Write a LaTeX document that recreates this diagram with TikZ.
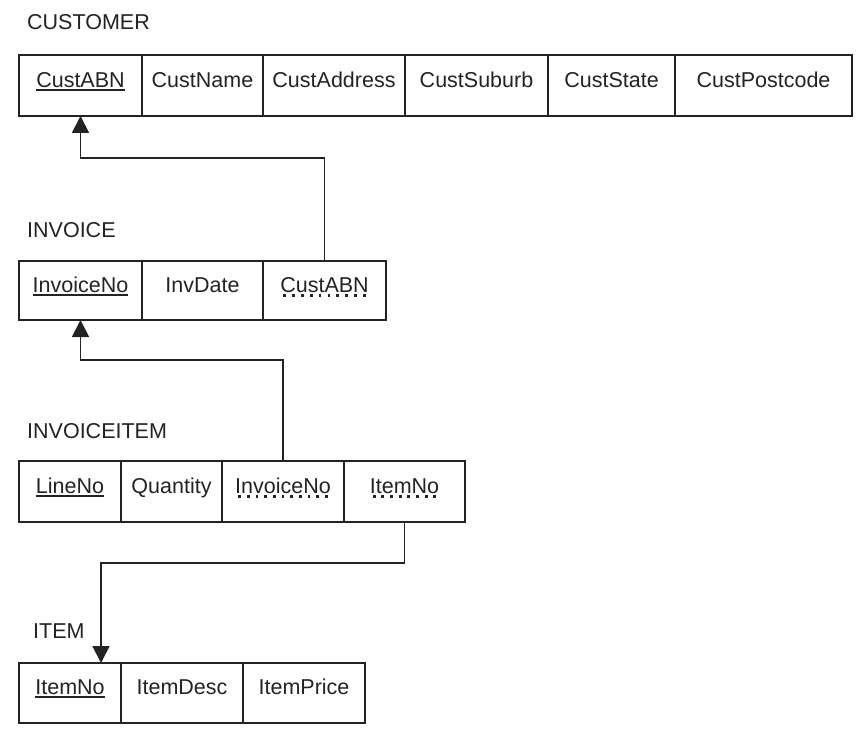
\documentclass[tikz,border=0pt]{standalone}
\usepackage{fontspec}
\setmainfont{Liberation Sans}
\usetikzlibrary{arrows.meta}
\definecolor{ink}{RGB}{35,35,35}
\newsavebox\ulbox
\newcommand\pkul[1]{\sbox\ulbox{#1}\rlap{\usebox\ulbox}\textcolor{ink}{\rule[-3.5pt]{\wd\ulbox}{1.8pt}}}
\newcommand\fkul[1]{\sbox\ulbox{#1}\rlap{\usebox\ulbox}\hbox to \wd\ulbox{\color{ink}\xleaders\hbox to 8.5pt{\hss\rule[-4.5pt]{2.8pt}{2.8pt}\hss}\hfill}}
\begin{document}
\begin{tikzpicture}[x=1pt,y=-1pt,
  cell/.style={draw=ink, line width=1.7pt, rectangle, inner sep=0pt, outer sep=0pt,
    text=ink, font=\fontsize{21.5}{24}\selectfont, text height=15.5pt, text depth=12pt},
  title/.style={anchor=base west, inner sep=0pt, text=ink, font=\fontsize{21.5}{24}\selectfont},
  fk/.style={draw=ink, line width=1.8pt, -{Triangle[length=17pt,width=17pt]}}]
\fill[white] (0,0) rectangle (862,730);
\useasboundingbox (0,0) rectangle (862,730);

% titles
\node[title] (tc) at (27,30) {CUSTOMER};
\node[title] (ti) at (27,237) {INVOICE};
\node[title] (tii) at (27,438) {INVOICEITEM};
\node[title] (tt) at (33,638) {ITEM};

% CUSTOMER
\node[cell, minimum width=123pt, minimum height=61pt] (c1) at (80.5,85.5) {\pkul{CustABN}};
\node[cell, minimum width=121pt, minimum height=61pt] (c2) at (202.5,85.5) {CustName};
\node[cell, minimum width=142pt, minimum height=61pt] (c3) at (334,85.5) {CustAddress};
\node[cell, minimum width=143pt, minimum height=61pt] (c4) at (476.5,85.5) {CustSuburb};
\node[cell, minimum width=127pt, minimum height=61pt] (c5) at (611.5,85.5) {CustState};
\node[cell, minimum width=177pt, minimum height=61pt] (c6) at (763.5,85.5) {CustPostcode};

% INVOICE
\node[cell, minimum width=123pt, minimum height=59pt] (i1) at (80.5,290.5) {\pkul{InvoiceNo}};
\node[cell, minimum width=121pt, minimum height=59pt] (i2) at (202.5,290.5) {InvDate};
\node[cell, minimum width=123pt, minimum height=59pt] (i3) at (324.5,290.5) {\fkul{CustABN}};

% INVOICEITEM
\node[cell, minimum width=102pt, minimum height=61pt] (ii1) at (70,491.5) {\pkul{LineNo}};
\node[cell, minimum width=101pt, minimum height=61pt] (ii2) at (171.5,491.5) {Quantity};
\node[cell, minimum width=122pt, minimum height=61pt] (ii3) at (283,491.5) {\fkul{InvoiceNo}};
\node[cell, minimum width=121pt, minimum height=61pt] (ii4) at (404.5,491.5) {\fkul{ItemNo}};

% ITEM
\node[cell, minimum width=102pt, minimum height=60pt] (t1) at (70,693) {\pkul{ItemNo}};
\node[cell, minimum width=122pt, minimum height=60pt] (t2) at (182,693) {ItemDesc};
\node[cell, minimum width=122pt, minimum height=60pt] (t3) at (304,693) {ItemPrice};

% connectors
\coordinate (h1) at (0,158);
\coordinate (h2) at (0,360);
\coordinate (h3) at (0,563);
\coordinate (t1in) at ([xshift=31pt]t1.north);
\draw[fk] (i3.north) -- (i3.north |- h1) -- (c1.south |- h1) -- (c1.south);
\draw[fk] (ii3.north) -- (ii3.north |- h2) -- (i1.south |- h2) -- (i1.south);
\draw[fk] (ii4.south) -- (ii4.south |- h3) -- (t1in |- h3) -- (t1in);
\end{tikzpicture}
\end{document}
